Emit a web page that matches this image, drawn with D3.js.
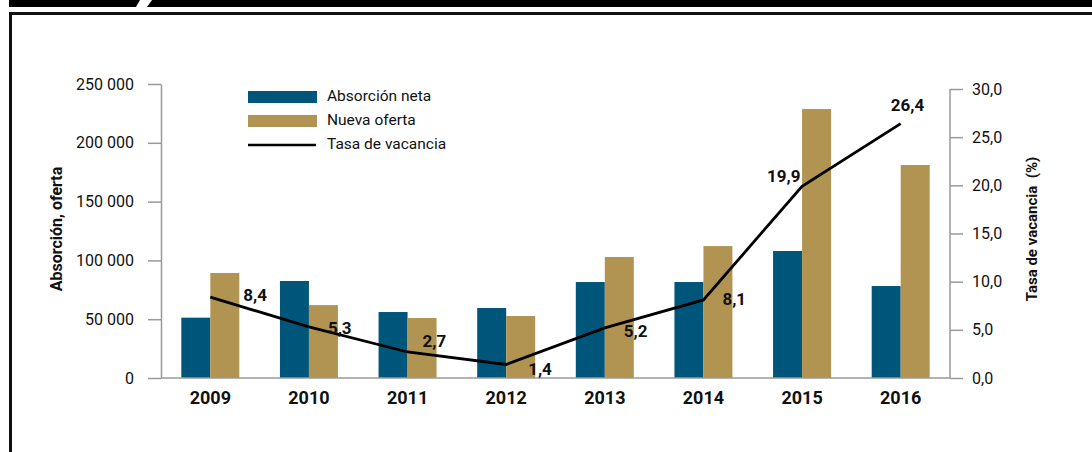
<!DOCTYPE html>
<html>
<head>
<meta charset="utf-8">
<script src="https://cdn.jsdelivr.net/npm/d3@7"></script>
<style>
  body { margin: 0; background: #fff; }
  svg text { font-family: Roboto, "Liberation Sans", sans-serif; fill: #111; }
  .bold { font-weight: bold; }
</style>
</head>
<body>
<div id="chart"></div>
<script>
const years = ['2009', '2010', '2011', '2012', '2013', '2014', '2015', '2016'];
const absorcion = [51300, 82500, 56100, 59500, 81600, 81600, 108000, 78200];
const oferta = [89300, 62000, 51000, 52700, 102900, 112200, 228700, 181100];
const vacancia = [8.4, 5.3, 2.7, 1.4, 5.2, 8.1, 19.9, 26.4];
const leftTicks = [0, 50000, 100000, 150000, 200000, 250000];
const rightTicks = [0, 5, 10, 15, 20, 25, 30];

// label nudges relative to each line point
const labelOffsets = [[33, -2], [19, 1], [15, -11], [22, 5], [19, 3], [19, -1], [-35, -10], [-10, -19]];

const width = 1092;
const height = 452;
const plot = {left: 161, right: 950, bottom: 378, topLeft: 84, topRight: 89};
const colors = {abs: '#00567a', ofe: '#b29452', axis: '#9a9a9a'};

const fmtLeft = d => d3.format(',')(d).replace(/,/g, ' ');
const fmtRight = d => d3.format('.1f')(d).replace('.', ',');

const svg = d3.select('#chart').append('svg')
    .attr('width', width)
    .attr('height', height);

// frame
svg.append('path')
    .attr('d', 'M9,0 H140 L136,7 H9 Z')
    .attr('fill', '#000');
svg.append('path')
    .attr('d', 'M152,0 H1092 V7 H147 Z')
    .attr('fill', '#000');
svg.append('path')
    .attr('d', `M10.5,${height} V13.5 H${width}`)
    .attr('fill', 'none')
    .attr('stroke', '#111')
    .attr('stroke-width', 3);

const x = d3.scaleBand()
    .domain(years)
    .range([plot.left, plot.right]);

const yLeft = d3.scaleLinear()
    .domain([0, 250000])
    .range([plot.bottom, plot.topLeft]);

const yRight = d3.scaleLinear()
    .domain([0, 30])
    .range([plot.bottom, plot.topRight]);

const barW = 29;

// bars
const groups = svg.append('g')
  .selectAll('g')
  .data(years)
  .join('g')
    .attr('transform', d => `translate(${x(d) + x.bandwidth() / 2},0)`);

groups.append('rect')
    .attr('x', -barW)
    .attr('width', barW)
    .attr('y', (d, i) => yLeft(absorcion[i]))
    .attr('height', (d, i) => plot.bottom - yLeft(absorcion[i]))
    .attr('fill', colors.abs);

groups.append('rect')
    .attr('x', 0)
    .attr('width', barW)
    .attr('y', (d, i) => yLeft(oferta[i]))
    .attr('height', (d, i) => plot.bottom - yLeft(oferta[i]))
    .attr('fill', colors.ofe);

// axes
const leftAxis = svg.append('g')
    .attr('transform', `translate(${plot.left},0)`)
    .call(d3.axisLeft(yLeft).tickValues(leftTicks).tickFormat(fmtLeft).tickSize(13).tickSizeOuter(0).tickPadding(14));

const rightAxis = svg.append('g')
    .attr('transform', `translate(${plot.right},0)`)
    .call(d3.axisRight(yRight).tickValues(rightTicks).tickFormat(fmtRight).tickSize(13).tickSizeOuter(0).tickPadding(9));

[leftAxis, rightAxis].forEach(a => {
  a.select('.domain').attr('stroke', colors.axis).attr('stroke-width', 1.5);
  a.selectAll('.tick line').attr('stroke', colors.axis).attr('stroke-width', 1.5);
  a.selectAll('.tick text').attr('font-size', 16).attr('fill', '#111');
});
rightAxis.select('.domain').attr('d', `M0,${plot.bottom}V${plot.topRight}`);

svg.append('line')
    .attr('x1', plot.left)
    .attr('x2', plot.right)
    .attr('y1', plot.bottom)
    .attr('y2', plot.bottom)
    .attr('stroke', colors.axis)
    .attr('stroke-width', 1.5);

svg.append('g')
  .selectAll('text')
  .data(years)
  .join('text')
    .attr('class', 'bold')
    .attr('x', d => x(d) + x.bandwidth() / 2)
    .attr('y', 404)
    .attr('text-anchor', 'middle')
    .attr('font-size', 18)
    .text(d => d);

// axis titles
svg.append('text')
    .attr('class', 'bold')
    .attr('transform', 'translate(62,229) rotate(-90)')
    .attr('text-anchor', 'middle')
    .attr('font-size', 16)
    .text('Absorción, oferta');

svg.append('text')
    .attr('class', 'bold')
    .attr('transform', 'translate(1037,229) rotate(-90)')
    .attr('text-anchor', 'middle')
    .attr('font-size', 15)
    .attr('xml:space', 'preserve')
    .text('Tasa de vacancia  (%)');

// vacancy line
const line = d3.line()
    .x((d, i) => x(years[i]) + x.bandwidth() / 2)
    .y(d => yRight(d));

svg.append('path')
    .datum(vacancia)
    .attr('d', line)
    .attr('fill', 'none')
    .attr('stroke', '#000')
    .attr('stroke-width', 2.8)
    .attr('stroke-linejoin', 'miter');

svg.append('g')
  .selectAll('text')
  .data(vacancia)
  .join('text')
    .attr('class', 'bold')
    .attr('x', (d, i) => x(years[i]) + x.bandwidth() / 2 + labelOffsets[i][0])
    .attr('y', (d, i) => yRight(d) + labelOffsets[i][1])
    .attr('dy', '0.35em')
    .attr('font-size', 17)
    .text(fmtRight);

// legend
const legend = svg.append('g').attr('transform', 'translate(248,91)');
const legendItems = [
  {label: 'Absorción neta', type: 'rect', color: colors.abs},
  {label: 'Nueva oferta', type: 'rect', color: colors.ofe},
  {label: 'Tasa de vacancia', type: 'line', color: '#000'}
];
legendItems.forEach((d, i) => {
  const g = legend.append('g').attr('transform', `translate(0,${i * 24})`);
  if (d.type === 'rect') {
    g.append('rect').attr('width', 69).attr('height', 12).attr('fill', d.color);
  } else {
    g.append('line').attr('x1', 0).attr('x2', 68).attr('y1', 6).attr('y2', 6)
        .attr('stroke', d.color).attr('stroke-width', 2.5);
  }
  g.append('text')
      .attr('x', 79)
      .attr('y', 5)
      .attr('dy', '0.35em')
      .attr('font-size', 15.5)
      .text(d.label);
});
</script>
</body>
</html>
